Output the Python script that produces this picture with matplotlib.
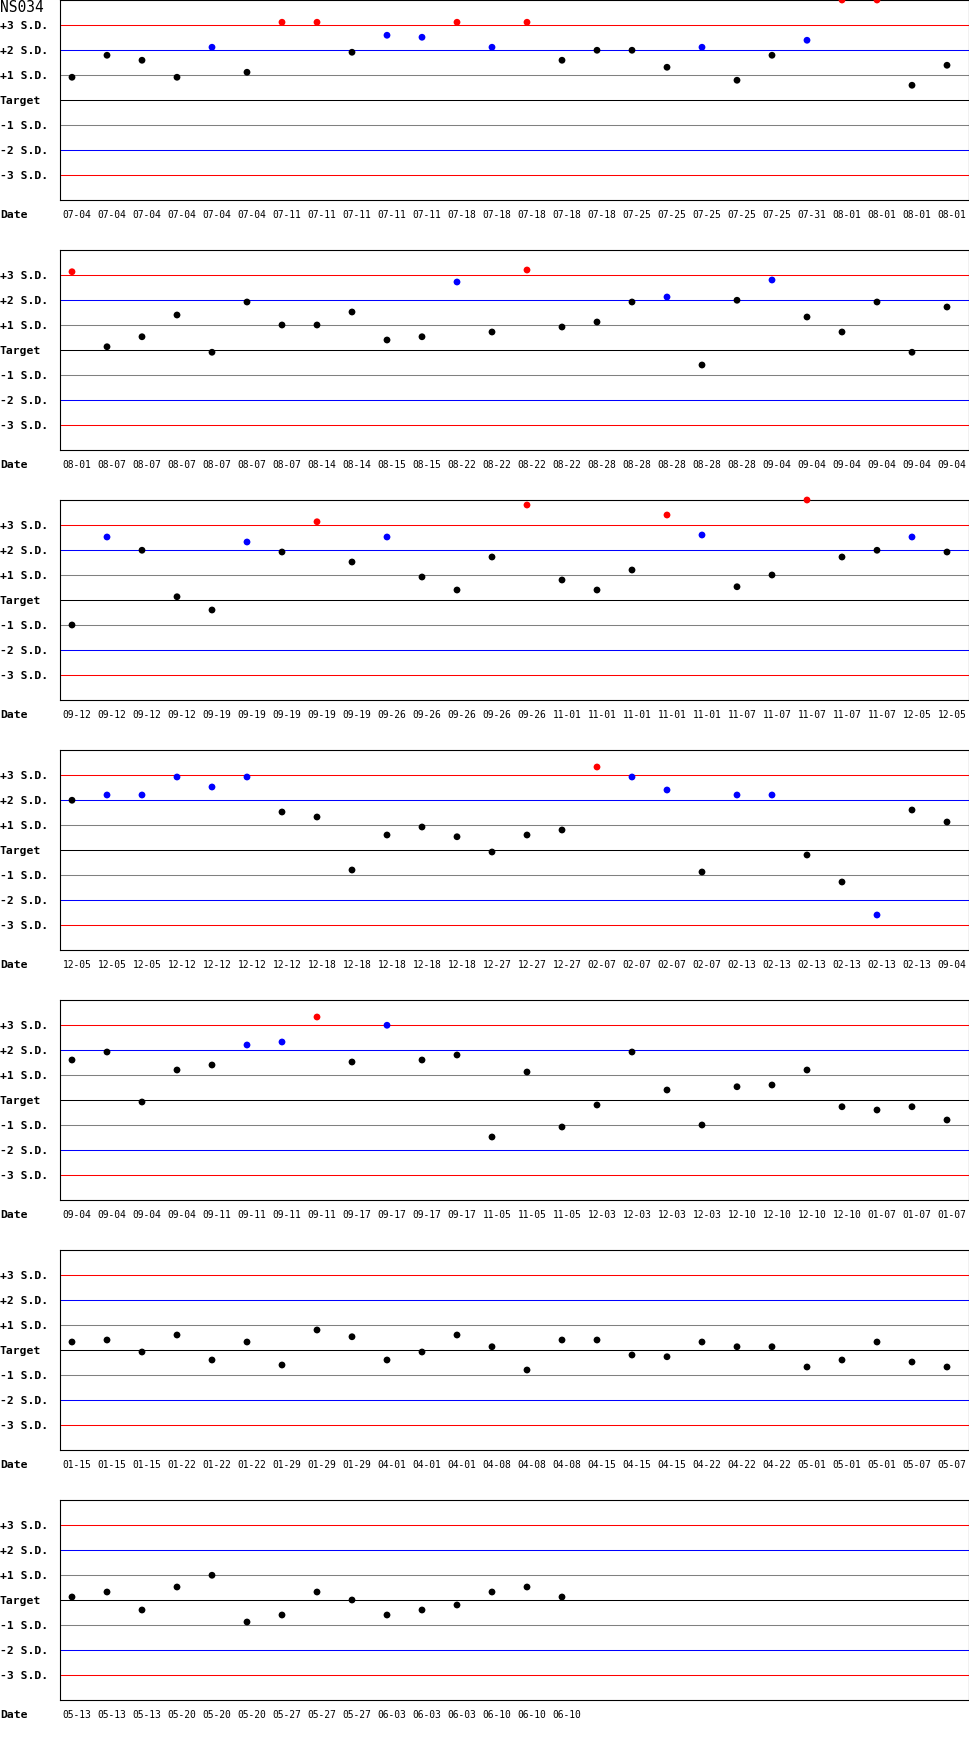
import matplotlib
matplotlib.use('Agg')
import matplotlib.pyplot as plt
from matplotlib.transforms import ScaledTranslation

title = 'NS034'

levels = [3, 2, 1, 0, -1, -2, -3]
level_labels = ['+3 S.D.', '+2 S.D.', '+1 S.D.', 'Target', '-1 S.D.', '-2 S.D.', '-3 S.D.']
level_colors = ['#ff0000', '#0000ff', '#808080', '#000000', '#808080', '#0000ff', '#ff0000']

# dates and deviations (in S.D.) per row of the chart
dates1 = ['07-04'] * 6 + ['07-11'] * 5 + ['07-18'] * 5 + ['07-25'] * 5 + ['07-31'] + ['08-01'] * 4
sd1 = [0.91, 1.79, 1.59, 0.91, 2.11, 1.11, 3.11, 3.11, 1.91, 2.59, 2.51, 3.11, 2.11,
       3.11, 1.59, 1.99, 1.99, 1.31, 2.11, 0.79, 1.79, 2.39, 4.0, 4.0, 0.59, 1.39]

dates2 = ['08-01'] + ['08-07'] * 6 + ['08-14'] * 2 + ['08-15'] * 2 + ['08-22'] * 4 + ['08-28'] * 5 + ['09-04'] * 6
sd2 = [3.13, 0.13, 0.53, 1.40, -0.09, 1.92, 1.0, 1.0, 1.52, 0.40, 0.53, 2.72, 0.72,
       3.20, 0.92, 1.12, 1.92, 2.12, -0.60, 1.99, 2.80, 1.32, 0.72, 1.92, -0.09, 1.72]

dates3 = ['09-12'] * 4 + ['09-19'] * 5 + ['09-26'] * 5 + ['11-01'] * 5 + ['11-07'] * 5 + ['12-05'] * 2
sd3 = [-1.0, 2.52, 1.99, 0.13, -0.40, 2.32, 1.92, 3.13, 1.52, 2.52, 0.92, 0.40, 1.72,
       3.80, 0.80, 0.40, 1.20, 3.40, 2.60, 0.53, 1.0, 4.0, 1.72, 1.99, 2.52, 1.92]

dates4 = ['12-05'] * 3 + ['12-12'] * 4 + ['12-18'] * 5 + ['12-27'] * 3 + ['02-07'] * 4 + ['02-13'] * 6 + ['09-04']
sd4 = [1.99, 2.20, 2.20, 2.92, 2.52, 2.92, 1.52, 1.32, -0.80, 0.60, 0.92, 0.53, -0.08,
       0.60, 0.80, 3.32, 2.92, 2.40, -0.88, 2.20, 2.20, -0.20, -1.28, -2.60, 1.60, 1.12]

dates5 = ['09-04'] * 4 + ['09-11'] * 4 + ['09-17'] * 4 + ['11-05'] * 3 + ['12-03'] * 4 + ['12-10'] * 4 + ['01-07'] * 3
sd5 = [1.60, 1.92, -0.08, 1.20, 1.40, 2.20, 2.32, 3.32, 1.52, 2.99, 1.60, 1.80, -1.48,
       1.12, -1.08, -0.20, 1.92, 0.40, -1.0, 0.53, 0.60, 1.20, -0.27, -0.40, -0.27, -0.80]

dates6 = (['01-15'] * 3 + ['01-22'] * 3 + ['01-29'] * 3 + ['04-01'] * 3 + ['04-08'] * 3
          + ['04-15'] * 3 + ['04-22'] * 3 + ['05-01'] * 3 + ['05-07'] * 2)
sd6 = [0.32, 0.40, -0.08, 0.60, -0.40, 0.32, -0.60, 0.80, 0.53, -0.40, -0.08, 0.60, 0.13,
       -0.80, 0.40, 0.40, -0.20, -0.27, 0.32, 0.13, 0.13, -0.68, -0.40, 0.32, -0.48, -0.68]

dates7 = ['05-13'] * 3 + ['05-20'] * 3 + ['05-27'] * 3 + ['06-03'] * 3 + ['06-10'] * 3
sd7 = [0.12, 0.32, -0.40, 0.52, 0.99, -0.88, -0.60, 0.32, 0.0, -0.60, -0.40, -0.20,
       0.32, 0.52, 0.12]

rows = [(dates1, sd1), (dates2, sd2), (dates3, sd3), (dates4, sd4),
        (dates5, sd5), (dates6, sd6), (dates7, sd7)]

W, H = 970, 1750
ROW_H = 250
AX_L, AX_R, AX_H = 60, 969, 200
FONT = 'DejaVu Sans Mono'


def point_color(v):
    if abs(v) > 3:
        return '#ff0000'
    if abs(v) > 2:
        return '#0000ff'
    return '#000000'


fig = plt.figure(figsize=(W / 100, H / 100), dpi=100)
fig.patch.set_facecolor('white')

for k, (dates, sd) in enumerate(rows):
    top = k * ROW_H
    ax = fig.add_axes([AX_L / W, 1 - (top + AX_H) / H, (AX_R - AX_L) / W, AX_H / H])
    ax.set_ylim(-4, 4)
    # slots are 35 px apart, first slot 12 px inside the frame
    ax.set_xlim(-12 / 35, (AX_R - AX_L - 12) / 35)

    for lv, c in zip(levels, level_colors):
        ax.axhline(lv, color=c, lw=0.75, zorder=1)

    xs = list(range(len(sd)))
    ax.scatter(xs, sd, c=[point_color(v) for v in sd], s=24, marker='o',
               linewidths=0, zorder=3, clip_on=False)

    ax.set_yticks(levels)
    ax.set_yticklabels(level_labels, fontfamily=FONT, fontweight='bold', fontsize=8.2)
    ax.tick_params(axis='y', length=0, pad=(AX_L / 100) * 72)
    for lab in ax.get_yticklabels():
        lab.set_horizontalalignment('left')

    ax.set_xticks(xs)
    ax.set_xticklabels(dates, fontfamily=FONT, fontsize=6.9)
    ax.tick_params(axis='x', length=0, pad=7.5)
    shift = ScaledTranslation(5 / 100, 0, fig.dpi_scale_trans)
    for lab in ax.get_xticklabels():
        lab.set_transform(lab.get_transform() + shift)

    ax.annotate('Date', xy=(0, 0), xycoords='axes fraction',
                xytext=(-AX_L, -15), textcoords='offset pixels',
                ha='left', va='center', fontfamily=FONT, fontweight='bold', fontsize=8.2)

    for sp in ax.spines.values():
        sp.set_color('black')
        sp.set_linewidth(0.8)
    ax.set_facecolor('white')

fig.text(0, 1 - 8 / H, title, ha='left', va='center', fontfamily=FONT, fontsize=10.5)

fig.savefig('out.png', dpi=100, facecolor='white')
